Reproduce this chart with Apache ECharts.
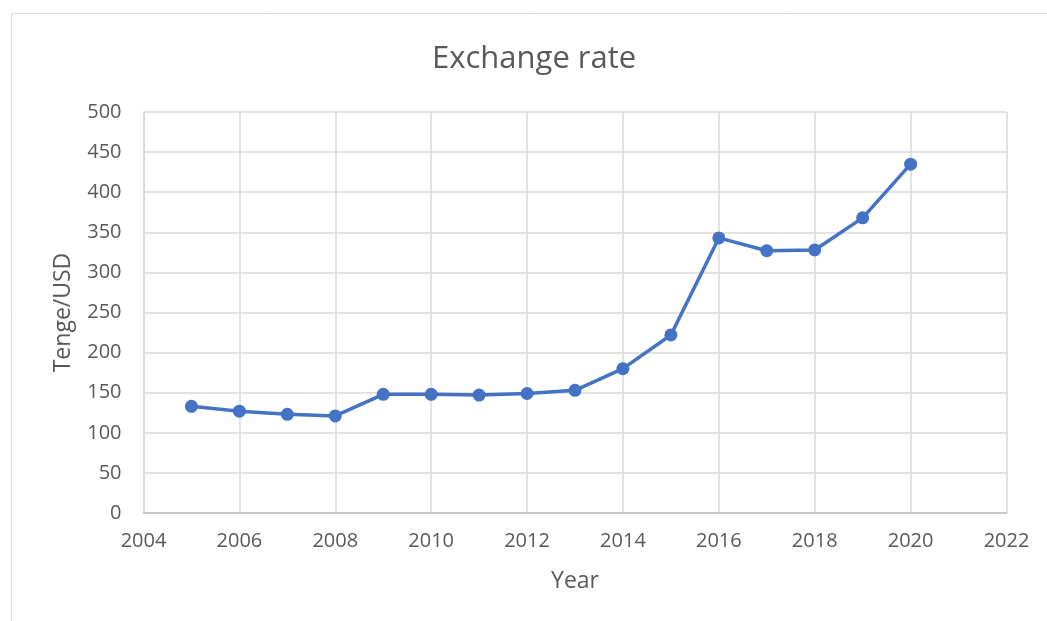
<!DOCTYPE html>
<html><head><meta charset="utf-8">
<script src="https://cdn.jsdelivr.net/npm/echarts@6/dist/echarts.min.js"></script>
<style>html,body{margin:0;padding:0;background:#fff}#c{width:1047px;height:621px}</style>
</head><body><div id="c"></div>
<script>
const years = [2005,2006,2007,2008,2009,2010,2011,2012,2013,2014,2015,2016,2017,2018,2019,2020];
const rates = [133,127,123,121,148,148,147,149,153,180,222,343,327,328,368,435];
const chartTitle = "Exchange rate";
const xName = "Year";
const yName = "Tenge/USD";

const chart = echarts.init(document.getElementById('c'));
const font = "'Open Sans', 'Liberation Sans', sans-serif";
chart.setOption({
  animation:false,
  textStyle:{fontFamily:font},
  graphic:[{type:'rect',shape:{x:11.5,y:13.5,width:1100,height:700},style:{fill:'none',stroke:'#d9d9d9',lineWidth:1},silent:true}],
  title:{text:chartTitle,left:432,top:44,padding:0,textStyle:{fontFamily:font,fontSize:31,fontWeight:'normal',color:'#595959'}},
  grid:{left:143.5,top:112,right:40.5,bottom:108,containLabel:false},
  xAxis:{type:'value',min:2004,max:2022,interval:2,
    name:xName,nameLocation:'middle',nameGap:57,nameTextStyle:{fontSize:23,color:'#595959'},
    axisLine:{show:true,lineStyle:{color:'#bfbfbf',width:1.5}},axisTick:{show:false},
    axisLabel:{fontSize:20,color:'#595959',margin:18,formatter:v=>String(v)},
    splitLine:{show:true,lineStyle:{color:'#d9d9d9',width:1.5}}},
  yAxis:{type:'value',min:0,max:500,interval:50,
    name:yName,nameLocation:'middle',nameGap:69,nameTextStyle:{fontSize:23,color:'#595959'},
    axisLine:{show:true,lineStyle:{color:'#d9d9d9',width:1.5}},axisTick:{show:false},
    axisLabel:{fontSize:20,color:'#595959',margin:22},
    splitLine:{show:true,lineStyle:{color:'#d9d9d9',width:1.5}}},
  series:[{type:'line',data:years.map((y,i)=>[y,rates[i]]),
    symbol:'circle',symbolSize:13,
    lineStyle:{color:'#4472C4',width:3.5},itemStyle:{color:'#4472C4'}}]
});
</script></body></html>
